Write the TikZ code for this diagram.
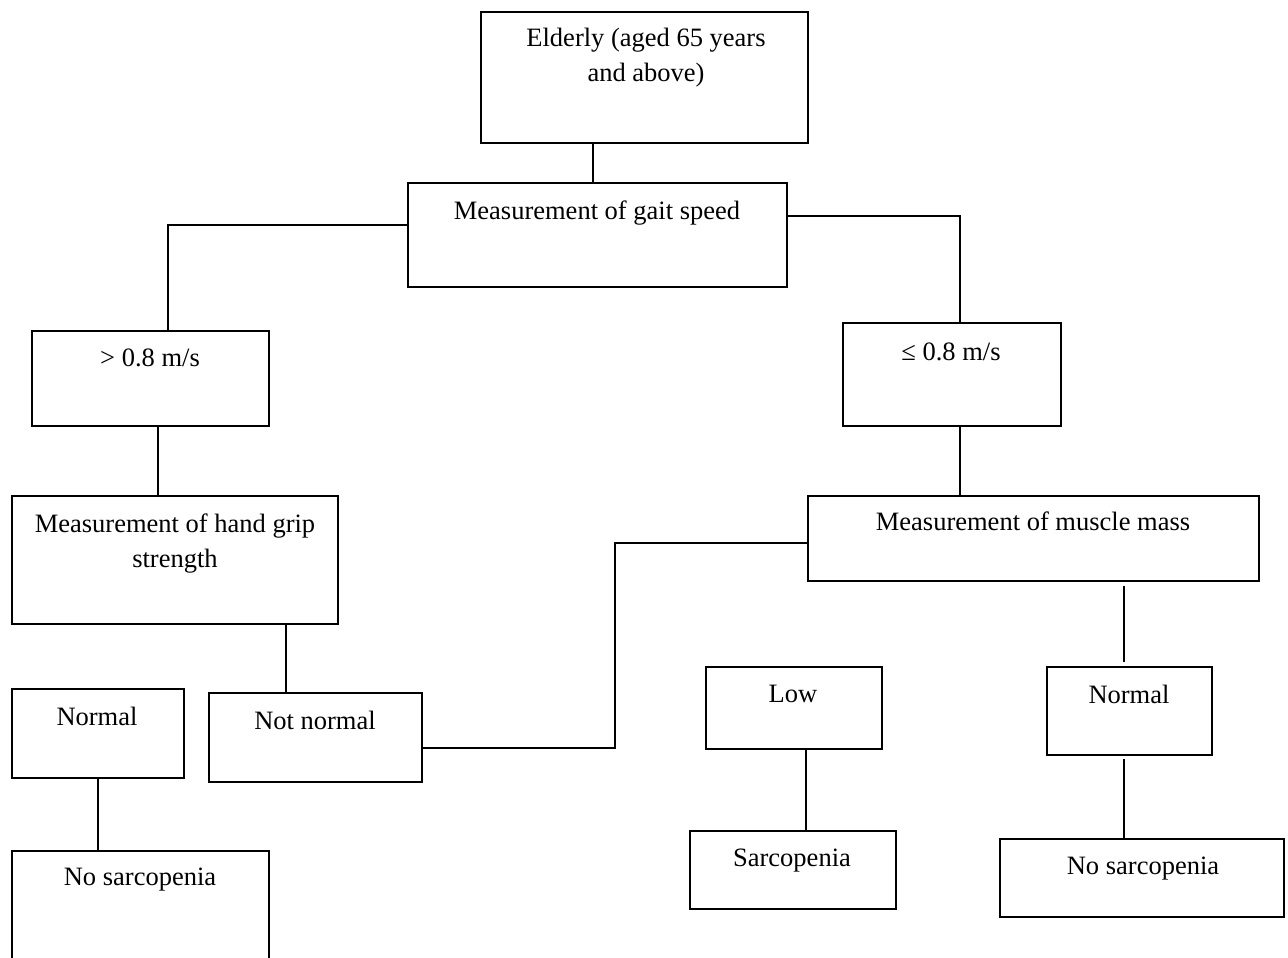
\documentclass[tikz,border=0pt]{standalone}
\usepackage{fontspec}
\setmainfont{Liberation Serif}
\begin{document}
\begin{tikzpicture}[x=1pt,y=-1pt,
  box/.style={draw=black, line width=2pt, rectangle, inner sep=0pt, fill=none},
  txt/.style={anchor=base, inner sep=0pt, font=\fontsize{26.5}{35}\selectfont},
  conn/.style={draw=black, line width=2pt}]
\useasboundingbox (0,0) rectangle (1288,958);
\clip (0,0) rectangle (1288,958);
\fill[white] (0,0) rectangle (1288,958);
% boxes
\node[box, minimum width=327pt, minimum height=131pt] (eld)   at (644.5,77.5) {};
\node[box, minimum width=379pt, minimum height=104pt] (gait)  at (597.5,235) {};
\node[box, minimum width=237pt, minimum height=95pt]  (gt)    at (150.5,378.5) {};
\node[box, minimum width=218pt, minimum height=103pt] (le)    at (952,374.5) {};
\node[box, minimum width=326pt, minimum height=128pt] (grip)  at (175,560) {};
\node[box, minimum width=451pt, minimum height=85pt]  (musc)  at (1033.5,538.5) {};
\node[box, minimum width=172pt, minimum height=89pt]  (norma) at (98,733.5) {};
\node[box, minimum width=213pt, minimum height=89pt]  (notn)  at (315.5,737.5) {};
\node[box, minimum width=176pt, minimum height=82pt]  (low)   at (794,708) {};
\node[box, minimum width=165pt, minimum height=88pt]  (normb) at (1129.5,711) {};
\node[box, minimum width=257pt, minimum height=139pt] (nosa)  at (140.5,920.5) {};
\node[box, minimum width=206pt, minimum height=78pt]  (sarc)  at (793,870) {};
\node[box, minimum width=284pt, minimum height=78pt]  (nosb)  at (1142,878) {};
% texts
\node[txt] (eldT) at (646,47) {\begin{tabular}[t]{@{}c@{}}Elderly (aged 65 years\\and above)\end{tabular}};
\node[txt] (gaitT) at (597,219) {Measurement of gait speed};
\node[txt] (gtT) at (150,366) {> 0.8 m/s};
\node[txt] (leT) at (951,360) {≤ 0.8 m/s};
\node[txt] (gripT) at (175,532) {\begin{tabular}[t]{@{}c@{}}Measurement of hand grip\\strength\end{tabular}};
\node[txt] (muscT) at (1033,530) {Measurement of muscle mass};
\node[txt] (normaT) at (97,725) {Normal};
\node[txt] (notnT) at (315,729) {Not normal};
\node[txt] (lowT) at (793,702) {Low};
\node[txt] (normbT) at (1129,703) {Normal};
\node[txt] (nosaT) at (140,885) {No sarcopenia};
\node[txt] (sarcT) at (792,866) {Sarcopenia};
\node[txt] (nosbT) at (1143,874) {No sarcopenia};
% connectors
\coordinate (gaitTop) at ([xshift=-4.5pt]gait.north);
\draw[conn] (gaitTop |- eld.south) -- (gaitTop);
\coordinate (gtTop) at ([xshift=17.5pt]gt.north);
\draw[conn] ([yshift=10pt]gait.west) -| (gtTop);
\coordinate (leTop) at ([xshift=8pt]le.north);
\draw[conn] ([yshift=19pt]gait.east) -| (leTop);
\coordinate (gtBot) at ([xshift=7.5pt]gt.south);
\draw[conn] (gtBot) -- (gtBot |- grip.north);
\coordinate (leBot) at ([xshift=8pt]le.south);
\draw[conn] (leBot) -- (leBot |- musc.north);
\coordinate (gripBot) at ([xshift=111pt]grip.south);
\draw[conn] (gripBot) -- (gripBot |- notn.north);
\coordinate (mx) at (615,543);
\draw[conn] ([yshift=-10.5pt]notn.east) -| (mx) -- (mx -| musc.west);
\coordinate (muscBot) at ([xshift=90.5pt]musc.south);
\draw[conn, shorten <=4pt, shorten >=4pt] (muscBot) -- (muscBot |- normb.north);
\draw[conn] (norma.south) -- (norma.south |- nosa.north);
\coordinate (lowBot) at ([xshift=12pt]low.south);
\draw[conn] (lowBot) -- (lowBot |- sarc.north);
\coordinate (normbBot) at ([xshift=-5.5pt]normb.south);
\draw[conn, shorten <=3pt] (normbBot) -- (normbBot |- nosb.north);
\end{tikzpicture}
\end{document}
